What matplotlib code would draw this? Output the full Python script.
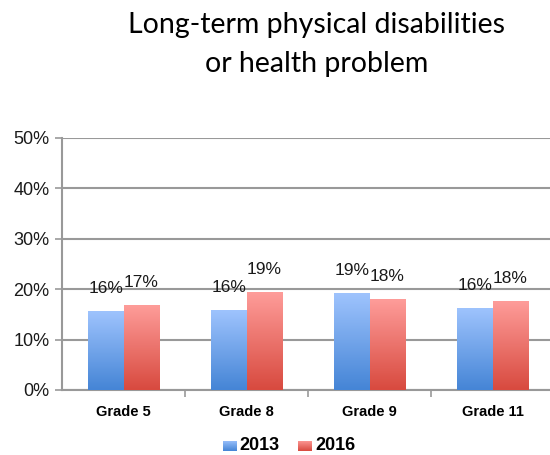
import numpy as np
import matplotlib
matplotlib.use("Agg")
import matplotlib.pyplot as plt
from matplotlib.colors import LinearSegmentedColormap

grades = ["Grade 5", "Grade 8", "Grade 9", "Grade 11"]
y2013 = [15.5, 15.7, 19.1, 16.2]
y2016 = [16.7, 19.3, 18.0, 17.5]
lab2013 = ["16%", "16%", "19%", "16%"]
lab2016 = ["17%", "19%", "18%", "18%"]

plt.rcParams['font.family'] = ['Liberation Sans', 'DejaVu Sans']

blue_cm = LinearSegmentedColormap.from_list("b", ["#4585d6", "#9ec3fd"])
red_cm = LinearSegmentedColormap.from_list("r", ["#d84a3f", "#fe9c99"])

fig = plt.figure(figsize=(5.5, 4.55), dpi=100)
ax = fig.add_axes([62/550, 65/455, 488/550, 252/455])

x = np.arange(len(grades))
w = 0.285
b1 = ax.bar(x - w/2, y2013, w, color="none", zorder=3)
b2 = ax.bar(x + w/2, y2016, w, color="none", zorder=3)

# gradient fill for each bar
grad = np.linspace(0, 1, 100).reshape(-1, 1)
for bars, cm in [(b1, blue_cm), (b2, red_cm)]:
    for p in bars:
        x0, h, bw = p.get_x(), p.get_height(), p.get_width()
        ax.imshow(grad, cmap=cm, origin="lower", aspect="auto",
                  extent=[x0, x0 + bw, 0, h], zorder=3)

for bars, labs in [(b1, lab2013), (b2, lab2016)]:
    for p, t in zip(bars, labs):
        ax.annotate(t, (p.get_x() + p.get_width()/2, p.get_height()),
                    xytext=(0, 16.5), textcoords="offset points",
                    ha="center", va="center", fontsize=12.5, color="#1a1a1a")

ax.set_xlim(-0.5, 3.5 - 4/123)
ax.set_ylim(0, 50)
ax.set_yticks(range(0, 51, 10))
ax.set_yticklabels([f"{v}%" for v in range(0, 51, 10)], fontsize=13, color="#1a1a1a")
ax.yaxis.grid(True, color="#999999", linewidth=1.5, zorder=0)
ax.set_axisbelow(True)

ax.set_xticks([0.5, 1.5, 2.5])
ax.set_xticklabels([])
ax.tick_params(axis="x", length=5, color="#999999", width=1.2)
ax.tick_params(axis="y", length=5, color="#999999", width=1.2, pad=4)
for i, g in enumerate(grades):
    ax.text(i, -4.3, g, ha="center", va="center", fontsize=10.5, fontweight="bold")

for s in ["top", "right"]:
    ax.spines[s].set_visible(False)
for s in ["left", "bottom"]:
    ax.spines[s].set_color("#999999")
    ax.spines[s].set_linewidth(1.5)

fig.text(0.576, 0.9275, "Long-term physical disabilities", ha="center", va="baseline",
         fontsize=20.5, family="Lato")
fig.text(0.576, 0.842, "or health problem", ha="center", va="baseline",
         fontsize=20.5, family="Lato")

# legend with gradient squares
for sx, cm, lbl in [(0.405, blue_cm, "2013"), (0.542, red_cm, "2016")]:
    lax = fig.add_axes([sx, 0.0088, 0.024, 0.022])
    lax.imshow(grad, cmap=cm, origin="lower", aspect="auto")
    lax.axis("off")
    fig.text(sx + 0.031, 0.021, lbl, ha="left", va="center", fontsize=13, fontweight="bold")

fig.savefig("out.png", dpi=100)
